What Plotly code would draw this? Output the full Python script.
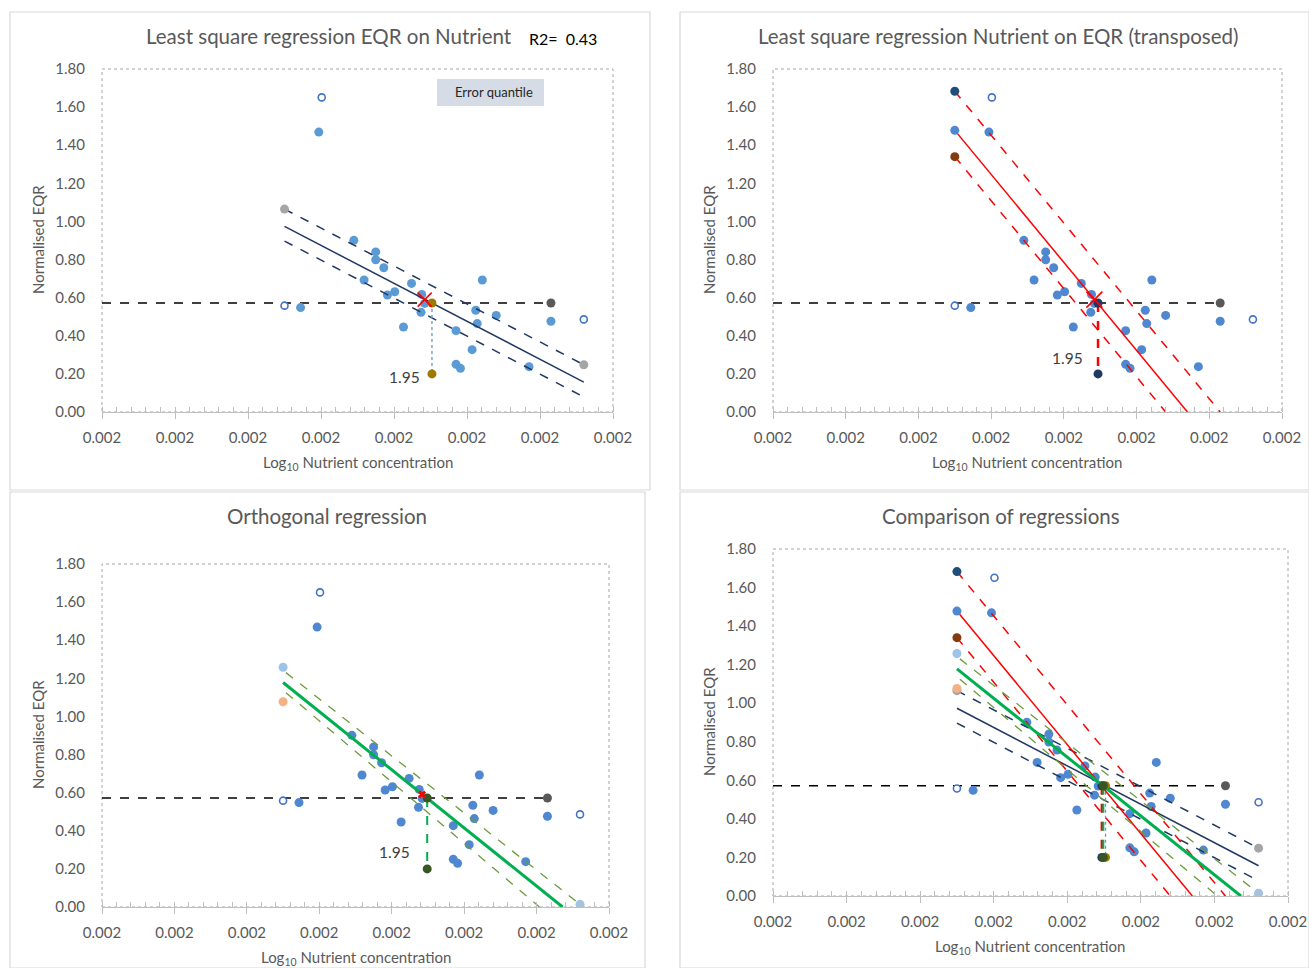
import plotly.graph_objects as go

W, H = 1309, 968
FONT = "Lato, Carlito, Calibri, sans-serif"
GREY_TXT = "#595959"

# ---------------- data (x in axis-tick units; every tick is labelled "0.002") ----------------
x_tick_vals = [0, 1, 2, 3, 4, 5, 6, 7]
x_tick_labels = ["0.002"] * 8
y_tick_vals = [0.0, 0.2, 0.4, 0.6, 0.8, 1.0, 1.2, 1.4, 1.6, 1.8]

obs_x = [2.97, 3.45, 3.75, 3.75, 3.86, 3.59, 4.24, 4.01, 3.91, 4.38, 4.37, 4.42,
         2.72, 5.12, 5.40, 5.21, 5.14, 6.15, 4.13, 4.85, 5.07, 4.85, 4.91, 5.85]
obs_y = [1.469, 0.901, 0.840, 0.799, 0.757, 0.693, 0.675, 0.631, 0.614, 0.617, 0.523, 0.570,
         0.548, 0.534, 0.507, 0.693, 0.464, 0.476, 0.446, 0.427, 0.327, 0.250, 0.229, 0.238]
open_x = [3.01, 2.50, 6.60]
open_y = [1.651, 0.558, 0.486]

centroid_x = [4.42]
centroid_y = [0.59]

ref_eqr = 0.572          # horizontal reference line
ref_end_x = 6.15         # dark grey end point
low_eqr = 0.20           # bottom point of the vertical drop

# least squares EQR on nutrient (blue)
ls_x = [2.50, 6.60]
ls_fit = [0.974, 0.157]
ls_upper = [1.065, 0.248]
ls_lower = [0.897, 0.079]
ls_cross_x = 4.52

# least squares nutrient on EQR (red)
tr_fit_x, tr_fit_y = [2.50, 5.70], [1.478, 0.0]
tr_up_x, tr_up_y = [2.50, 6.15], [1.683, 0.0]
tr_lo_x, tr_lo_y = [2.50, 5.40], [1.340, 0.0]
tr_cross_x = 4.47

# orthogonal regression (green)
or_fit_x, or_fit_y = [2.50, 6.36], [1.178, 0.0]
or_up_x, or_up_y = [2.54, 6.60], [1.230, 0.014]
or_lo_x, or_lo_y = [2.54, 6.04], [1.125, 0.0]
or_end_pts_x = [2.50, 2.50, 6.60]
or_end_pts_y = [1.258, 1.077, 0.014]
or_end_cols = ["#9DC3E6", "#F4B183", "#9DC3E6"]
or_cross_x = 4.49

tr_end_pts_y = [1.683, 1.478, 1.340]
tr_end_cols = ["#1F4E79", "#4F87D0", "#843C0C"]

quantile_label = "1.95"
r2_label = "R2=  0.43"

titles = ["Least square regression EQR on Nutrient",
          "Least square regression Nutrient on EQR (transposed)",
          "Orthogonal regression",
          "Comparison of regressions"]

# ---------------- layout geometry (pixels) ----------------
def px_x(p):
    return p / W

def px_y(p):
    return 1 - p / H

plot_px = [  # x0, x1, ytop, ybottom
    (102, 613, 69, 412),
    (773, 1282, 69, 412),
    (102, 609, 564, 907),
    (773, 1288, 549, 896),
]
frames_px = [(10, 12, 650, 490), (680, 12, 1309, 490), (10, 492, 645, 968), (680, 492, 1309, 968)]
title_px = [(329, 36), (998, 36), (327, 516), (1001, 516)]
xtitle_px = [(358, 463), (1027, 463), (356, 958), (1030, 947)]
ytitle_px = [(38, 240), (709, 240), (38, 735), (709, 722)]

fig = go.Figure()

def ax_names(i):
    return ("x" if i == 0 else f"x{i+1}", "y" if i == 0 else f"y{i+1}")

def line(i, xs, ys, color, width=1.5, dash="solid"):
    xa, ya = ax_names(i)
    fig.add_trace(go.Scatter(x=xs, y=ys, mode="lines", xaxis=xa, yaxis=ya,
                             line=dict(color=color, width=width, dash=dash), hoverinfo="skip"))

def pts(i, xs, ys, color, size=9, symbol="circle", lcolor=None, lwidth=0):
    xa, ya = ax_names(i)
    fig.add_trace(go.Scatter(x=xs, y=ys, mode="markers", xaxis=xa, yaxis=ya,
                             marker=dict(color=color, size=size, symbol=symbol,
                                         line=dict(color=lcolor or color, width=lwidth)),
                             hoverinfo="skip"))

def base(i, blue):
    # horizontal reference
    line(i, [0, ref_end_x], [ref_eqr, ref_eqr], "#000000", 1.5, "dash")
    pts(i, obs_x, obs_y, blue)
    pts(i, open_x, open_y, "#FFFFFF", 7, "circle", "#4472C4", 1.6)

def blue_set(i):
    line(i, ls_x, ls_fit, "#203864", 1.5)
    line(i, ls_x, ls_upper, "#203864", 1.5, "dash")
    line(i, ls_x, ls_lower, "#203864", 1.5, "dash")
    line(i, [ls_cross_x, ls_cross_x], [ref_eqr, low_eqr], "#5B9BD5", 1.3, "dot")
    pts(i, ls_x, ls_upper, "#A5A5A5")
    pts(i, [ls_cross_x, ls_cross_x], [ref_eqr, low_eqr], "#9C7A00")

def red_set(i):
    line(i, tr_fit_x, tr_fit_y, "#FF0000", 1.5)
    line(i, tr_up_x, tr_up_y, "#FF0000", 1.5, "dash")
    line(i, tr_lo_x, tr_lo_y, "#FF0000", 1.5, "dash")
    line(i, [tr_cross_x, tr_cross_x], [ref_eqr, low_eqr], "#FF0000", 2.5, "dash")
    pts(i, [tr_fit_x[0]] * 3, tr_end_pts_y, tr_end_cols)
    pts(i, [tr_cross_x, tr_cross_x], [ref_eqr, low_eqr], "#1F3864")

def green_set(i):
    line(i, or_up_x, or_up_y, "#6E9A3C", 1.3, "dash")
    line(i, or_lo_x, or_lo_y, "#6E9A3C", 1.3, "dash")
    line(i, or_fit_x, or_fit_y, "#00B050", 3)
    line(i, [or_cross_x, or_cross_x], [ref_eqr, low_eqr], "#00B050", 2, "dash")
    pts(i, or_end_pts_x, or_end_pts_y, or_end_cols)
    pts(i, [or_cross_x, or_cross_x], [ref_eqr, low_eqr], "#375623")

# panel 1
base(0, "#5B9BD5")
blue_set(0)
pts(0, [ref_end_x], [ref_eqr], "#595959")
pts(0, centroid_x, centroid_y, "#FF0000", 14, "x-thin", "#FF0000", 1.6)

# panel 2
base(1, "#4F87D0")
red_set(1)
pts(1, [ref_end_x], [ref_eqr], "#595959")
pts(1, centroid_x, centroid_y, "#FF0000", 16, "x-thin", "#FF0000", 1.6)

# panel 3
base(2, "#4F87D0")
green_set(2)
pts(2, [ref_end_x], [ref_eqr], "#595959")
pts(2, centroid_x, centroid_y, "#FF0000", 7, "x", "#FF0000", 0)

# panel 4
base(3, "#4F87D0")
blue_set(3)
red_set(3)
green_set(3)
pts(3, [ref_end_x], [ref_eqr], "#595959")

layout = dict(width=W, height=H, margin=dict(l=0, r=0, t=0, b=0, autoexpand=False),
              paper_bgcolor="#FFFFFF", plot_bgcolor="#FFFFFF", showlegend=False,
              font=dict(family=FONT, color=GREY_TXT))

shapes, annots = [], []
for i, (x0, x1, yt, yb) in enumerate(plot_px):
    sfx = "" if i == 0 else str(i + 1)
    xa, ya = ax_names(i)
    layout["xaxis" + sfx] = dict(
        domain=[px_x(x0), px_x(x1)], anchor=ya, range=[0, 7], automargin=False,
        tickmode="array", tickvals=x_tick_vals, ticktext=x_tick_labels,
        showgrid=False, zeroline=False, showline=True, linecolor="#BFBFBF", linewidth=1,
        ticks="outside", ticklen=6, tickcolor="#BFBFBF", ticklabelstandoff=6,
        minor=dict(tickmode="linear", tick0=0, dtick=0.2, ticks="inside", ticklen=5,
                   tickcolor="#BFBFBF", showgrid=False),
        tickfont=dict(size=15, color=GREY_TXT, family=FONT), fixedrange=True)
    layout["yaxis" + sfx] = dict(
        domain=[px_y(yb), px_y(yt)], anchor=xa, range=[0, 1.8], automargin=False,
        tickmode="array", tickvals=y_tick_vals, tickformat=".2f",
        showgrid=False, zeroline=False, showline=False, ticks="",
        ticklabelstandoff=16,
        tickfont=dict(size=15, color=GREY_TXT, family=FONT), fixedrange=True)
    # plot-area dotted border
    shapes.append(dict(type="rect", xref=f"{xa} domain", yref=f"{ya} domain",
                       x0=0, x1=1, y0=0, y1=1, line=dict(color="#A6A6A6", width=1, dash="dot"),
                       layer="below"))
    # chart-area frame
    fx0, fy0, fx1, fy1 = frames_px[i]
    shapes.append(dict(type="rect", xref="paper", yref="paper",
                       x0=px_x(fx0), x1=px_x(fx1), y0=px_y(fy1), y1=px_y(fy0),
                       line=dict(color="#D9D9D9", width=1.2), layer="below"))
    tx, ty = title_px[i]
    annots.append(dict(x=px_x(tx), y=px_y(ty), xref="paper", yref="paper", text=titles[i],
                       showarrow=False, xanchor="center", yanchor="middle",
                       font=dict(size=20.5, color=GREY_TXT, family=FONT)))
    xx, xy = xtitle_px[i]
    annots.append(dict(x=px_x(xx), y=px_y(xy), xref="paper", yref="paper",
                       text="Log<sub>10</sub> Nutrient concentration",
                       showarrow=False, xanchor="center", yanchor="middle",
                       font=dict(size=15, color=GREY_TXT, family=FONT)))
    yx, yy = ytitle_px[i]
    annots.append(dict(x=px_x(yx), y=px_y(yy), xref="paper", yref="paper",
                       text="Normalised EQR", textangle=-90,
                       showarrow=False, xanchor="center", yanchor="middle",
                       font=dict(size=15, color=GREY_TXT, family=FONT)))

# "1.95" quantile labels
for i, (lx, ly) in enumerate([(4.38, 0.185), (4.29, 0.285), (4.28, 0.29)]):
    xa, ya = ax_names(i)
    annots.append(dict(x=lx, y=ly, xref=xa, yref=ya, text=quantile_label, showarrow=False,
                       xanchor="right", yanchor="middle",
                       font=dict(size=15.5, color="#404040", family=FONT)))

# R2 text
annots.append(dict(x=px_x(527), y=px_y(38), xref="paper", yref="paper", text=r2_label,
                   showarrow=False, xanchor="left", yanchor="middle",
                   font=dict(size=16, color="#000000", family=FONT)))

# Error quantile box
shapes.append(dict(type="rect", xref="paper", yref="paper",
                   x0=px_x(437), x1=px_x(544), y0=px_y(106), y1=px_y(79),
                   fillcolor="#D6DCE5", line=dict(width=0), layer="below"))
annots.append(dict(x=px_x(494), y=px_y(92), xref="paper", yref="paper", text="Error quantile",
                   showarrow=False, xanchor="center", yanchor="middle",
                   font=dict(size=13, color="#262626", family=FONT)))

layout["shapes"] = shapes
layout["annotations"] = annots
fig.update_layout(**layout)
fig.write_html("out.html", config={"displayModeBar": False},
               post_script="document.body.style.margin='0px';document.body.style.overflow='hidden';")
